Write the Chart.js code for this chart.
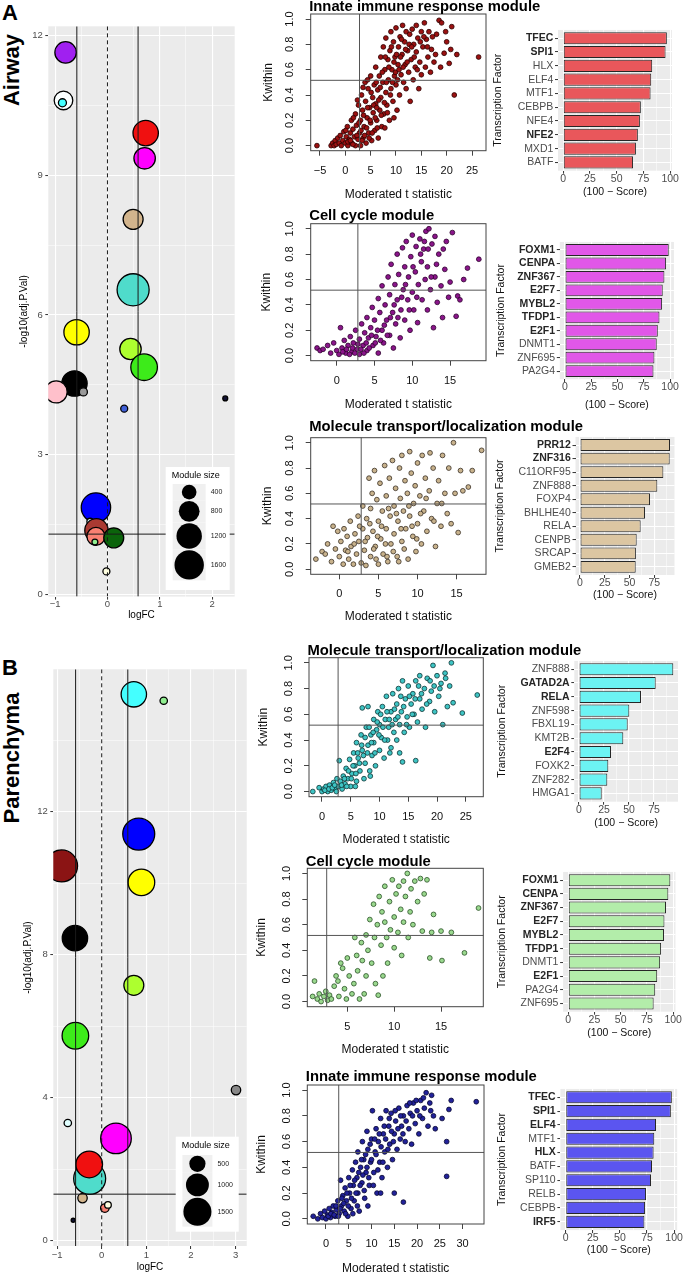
<!DOCTYPE html>
<html>
<head>
<meta charset="utf-8">
<title>Airway / Parenchyma module plots</title>
<script src="https://cdn.jsdelivr.net/npm/chart.js@4.4.1/dist/chart.umd.min.js"></script>
<style>
  html, body { margin: 0; padding: 0; background: #fff; }
  body { position: relative; width: 685px; height: 1278px; overflow: hidden; font-family: "Liberation Sans", Arial, sans-serif; }
  .tag { position: absolute; font-weight: bold; font-size: 22px; line-height: 1; color: #000; }
  .side { position: absolute; width: 0; height: 0; }
  .side span { position: absolute; left: 0; top: 0; transform: translate(-50%, -50%) rotate(-90deg); white-space: nowrap; font-weight: bold; font-size: 22px; line-height: 1; color: #000; }
</style>
</head>
<body>
<div class="tag" style="left:2px;top:2px">A</div>
<div class="side" style="left:12px;top:70px"><span>Airway</span></div>
<div class="tag" style="left:2px;top:657px">B</div>
<div class="side" style="left:12px;top:758px"><span>Parenchyma</span></div>
<script>
// ---------- module bubble plots ----------
const airModules = ['purple', 'white', 'cyan', 'red', 'magenta', 'tan', 'turquoise', 'yellow', 'greenyellow', 'green', 'black', 'pink', 'grey60', 'royalblue', 'midnightblue', 'blue', 'lightcyan', 'brown', 'salmon', 'darkgreen', 'lightgreen', 'lightyellow'];
const airLogFC = [-0.80, -0.84, -0.86, 0.73, 0.71, 0.49, 0.49, -0.59, 0.44, 0.70, -0.63, -0.98, -0.46, 0.32, 2.25, -0.22, -0.33, -0.21, -0.22, 0.12, -0.24, -0.02];
const airNegLogP = [11.63, 10.60, 10.55, 9.90, 9.36, 8.05, 6.54, 5.63, 5.27, 4.88, 4.53, 4.35, 4.35, 3.99, 4.21, 1.87, 1.57, 1.38, 1.25, 1.22, 1.13, 0.50];
const airModSize = [850, 640, 120, 1190, 850, 740, 1900, 1190, 850, 1310, 1190, 900, 120, 90, 45, 1600, 80, 1010, 600, 740, 65, 90];

const parModules = ['cyan', 'lightgreen', 'blue', 'darkred', 'yellow', 'black', 'greenyellow', 'green', 'grey', 'lightcyan', 'magenta', 'turquoise', 'red', 'tan', 'salmon', 'lightyellow', 'midnightblue'];
const parLogFC = [0.72, 1.39, 0.83, -0.90, 0.89, -0.60, 0.72, -0.59, 3.01, -0.76, 0.32, -0.27, -0.28, -0.43, 0.07, 0.14, -0.64];
const parNegLogP = [15.28, 15.10, 11.37, 10.48, 10.02, 8.46, 7.14, 5.73, 4.21, 3.29, 2.86, 1.74, 2.13, 1.19, 0.91, 1.00, 0.57];
const parModSize = [1230, 105, 1950, 1950, 1350, 1230, 760, 1350, 170, 105, 1790, 1950, 1350, 170, 140, 85, 30];

const airFcMajor = [-1, 0, 1, 2];
const airFcMinor = [-0.5, 0.5, 1.5];
const airPMajor = [0, 3, 6, 9, 12];
const airPMinor = [1.5, 4.5, 7.5, 10.5];
const parFcMajor = [-1, 0, 1, 2, 3];
const parFcMinor = [-0.5, 0.5, 1.5, 2.5];
const parPMajor = [0, 4, 8, 12];
const parPMinor = [2, 6, 10, 14];
const airSizeBreaks = [400, 800, 1200, 1600];
const parSizeBreaks = [500, 1000, 1500];
const fcCut = [-0.585, 0.585];
const pCut = 1.3;

// ---------- Kwithin vs moderated t scatter ----------
const airImmunePts = [[-5.6,0.0],[-2.8,0.0],[-2.5,0.02],[-2.2,0.0],[-2,0.04],[-1.8,0.01],[-1.5,0.06],[-1.2,0.02],[-1,0.08],[-0.8,0.0],[-0.5,0.04],[-0.3,0.11],[0,0.02],[0.2,0.07],[0.4,0.15],[0.5,0.0],[0.8,0.05],[1,0.1],[1.2,0.2],[1.3,0.02],[1.5,0.13],[1.8,0.07],[2,0.25],[2,0.0],[2.2,0.16],[2.5,0.05],[2.6,0.32],[2.8,0.1],[3,0.2],[3,0.0],[3.2,0.4],[3.4,0.28],[3.5,0.06],[3.7,0.15],[3.9,0.5],[4,0.35],[4.1,0.02],[4.3,0.22],[4.5,0.45],[4.6,0.1],[4.8,0.3],[5,0.55],[5,0.18],[5.2,0.04],[5.4,0.38],[5.5,0.26],[5.7,0.48],[5.8,0.12],[6,0.62],[6,0.33],[6.2,0.2],[6.4,0.44],[6.5,0.06],[6.7,0.55],[6.8,0.28],[7,0.7],[7,0.38],[7.2,0.15],[7.4,0.5],[7.5,0.78],[7.6,0.25],[7.8,0.6],[8,0.42],[8,0.85],[8.2,0.32],[8.4,0.68],[8.5,0.52],[8.7,0.2],[8.8,0.75],[9,0.45],[9,0.9],[9.2,0.6],[9.4,0.35],[9.5,0.82],[9.7,0.55],[9.8,0.7],[10,0.48],[10,0.93],[10.2,0.28],[10.4,0.64],[10.5,0.78],[10.7,0.4],[10.8,0.86],[11,0.56],[11.2,0.72],[11.3,0.95],[11.5,0.5],[11.7,0.82],[11.8,0.64],[12,0.9],[12,0.45],[12.3,0.75],[12.5,0.58],[12.7,0.88],[12.8,0.35],[13,0.68],[13.2,0.92],[13.4,0.52],[13.5,0.8],[13.8,0.62],[14,0.95],[14,0.74],[14.3,0.85],[14.5,0.45],[14.7,0.66],[15,0.9],[15,0.56],[15.3,0.78],[15.6,0.97],[15.8,0.62],[16,0.84],[16.3,0.7],[16.5,0.9],[16.8,0.58],[17,0.76],[17.5,0.66],[18,0.88],[18.5,0.99],[18.8,0.62],[19,0.97],[19.5,0.73],[20,0.82],[20.5,0.65],[21,0.94],[21.5,0.40],[22,0.72],[26.3,0.70],
  [0.5,0.03],[1,0.04],[1.5,0.01],[2.3,0.08],[2.7,0.18],[3.1,0.12],[3.3,0.04],[3.6,0.24],[3.8,0.08],[4.2,0.14],[4.4,0.3],[4.7,0.06],[4.9,0.2],[5.1,0.42],[5.3,0.1],[5.6,0.32],[5.9,0.22],[6.1,0.5],[6.3,0.14],[6.6,0.36],[6.9,0.46],[7.1,0.24],[7.3,0.58],[7.7,0.34],[7.9,0.7],[8.1,0.5],[8.3,0.26],[8.6,0.62],[8.9,0.4],[9.1,0.78],[9.3,0.5],[9.6,0.66],[9.9,0.58],[10.1,0.72],[10.3,0.52],[10.6,0.6],[10.9,0.7],[11.1,0.84],[11.4,0.62],[11.9,0.76],[12.2,0.66],[12.6,0.8],[13.1,0.78],[13.6,0.7],[14.2,0.6],[14.8,0.82],[15.5,0.86],[16.2,0.78],[17.2,0.86],[17.8,0.72],[19.8,0.9],[20.8,0.76],[0.1,0.12],[1.6,0.22],[2.4,0.36],[3.5,0.46],[4.4,0.52],[6.2,0.3],[7.8,0.14],[9.6,0.22]];
const airCyclePts = [[-2.6,0.06],[-2.2,0.04],[-1.8,0.05],[-1.2,0.08],[-0.8,0.02],[-0.4,0.1],[0,0.04],[0.3,0.01],[0.5,0.22],[0.7,0.06],[1,0.12],[1.2,0.02],[1.5,0.08],[1.8,0.15],[2,0.03],[2.2,0.1],[2.5,0.2],[2.7,0.05],[3,0.13],[3,0.01],[3.3,0.25],[3.5,0.08],[3.7,0.18],[4,0.3],[4,0.04],[4.2,0.14],[4.5,0.22],[4.7,0.38],[4.8,0.08],[5,0.28],[5.2,0.15],[5.5,0.45],[5.5,0.02],[5.7,0.34],[6,0.2],[6,0.55],[6.2,0.1],[6.4,0.4],[6.6,0.28],[6.8,0.62],[7,0.16],[7,0.48],[7.2,0.72],[7.4,0.34],[7.5,0.06],[7.7,0.56],[7.8,0.25],[8,0.8],[8,0.44],[8.2,0.64],[8.4,0.14],[8.5,0.36],[8.7,0.85],[8.8,0.52],[9,0.7],[9,0.28],[9.2,0.9],[9.4,0.44],[9.5,0.62],[9.7,0.2],[9.8,0.78],[10,0.5],[10,0.95],[10.2,0.36],[10.4,0.66],[10.5,0.86],[10.7,0.26],[10.8,0.56],[11,0.92],[11.2,0.74],[11.3,0.44],[11.5,0.84],[11.7,0.6],[11.8,0.98],[12,0.36],[12,0.7],[12.2,1.0],[12.4,0.52],[12.6,0.88],[12.8,0.22],[13,0.62],[13,0.94],[13.3,0.42],[13.5,0.8],[13.8,0.55],[14,0.3],[14.3,0.68],[14.5,0.9],[14.8,0.46],[15,0.58],[15.3,0.97],[15.8,0.31],[16,0.47],[16.3,0.44],[16.8,0.6],[17.3,0.69],[18.8,0.76],
  [0.8,0.03],[1.3,0.05],[1.7,0.01],[2.1,0.06],[2.4,0.02],[2.8,0.09],[3.2,0.05],[3.6,0.02],[3.9,0.1],[4.3,0.06],[4.6,0.16],[5.1,0.1],[5.4,0.2],[5.8,0.12],[6.3,0.24],[6.7,0.16],[7.1,0.3],[7.6,0.4],[8.1,0.3],[8.6,0.46],[9.1,0.56],[9.6,0.36],[10.1,0.7],[10.6,0.46],[11.1,0.8],[11.6,0.9],[12.1,0.84],[12.5,0.62],[13.2,0.72],[14.1,0.84]];
const airTransPts = [[-3,0.08],[-2.2,0.14],[-1.8,0.12],[-1.5,0.2],[-1,0.06],[-0.8,0.34],[-0.5,0.16],[-0.2,0.3],[0,0.1],[0.2,0.22],[0.5,0.04],[0.6,0.32],[0.8,0.15],[1,0.26],[1.2,0.08],[1.4,0.38],[1.5,0.18],[1.8,0.04],[2,0.28],[2.2,0.12],[2.4,0.42],[2.5,0.22],[2.8,0.05],[3,0.5],[3,0.32],[3.2,0.15],[3.4,0.03],[3.5,0.4],[3.6,0.25],[3.8,0.72],[4,0.1],[4,0.48],[4.2,0.6],[4.3,0.3],[4.5,0.78],[4.6,0.18],[4.8,0.55],[5,0.04],[5,0.38],[5.2,0.68],[5.3,0.24],[5.5,0.46],[5.6,0.12],[5.8,0.82],[6,0.32],[6,0.58],[6.2,0.06],[6.4,0.72],[6.5,0.42],[6.6,0.2],[6.8,0.86],[7,0.5],[7,0.28],[7.2,0.64],[7.4,0.1],[7.5,0.38],[7.7,0.8],[7.8,0.56],[8,0.9],[8,0.22],[8.2,0.46],[8.4,0.7],[8.5,0.32],[8.7,0.6],[8.8,0.08],[9,0.93],[9,0.42],[9.2,0.76],[9.4,0.26],[9.5,0.52],[9.7,0.66],[9.8,0.14],[10,0.36],[10,0.84],[10.3,0.58],[10.5,0.2],[10.6,0.9],[10.8,0.46],[11,0.72],[11.2,0.3],[11.5,0.62],[11.6,0.92],[11.8,0.4],[12,0.8],[12.3,0.18],[12.5,0.52],[12.7,0.7],[13,0.34],[13.2,0.9],[13.5,0.6],[13.8,0.44],[14,0.8],[14.3,0.36],[14.6,1.0],[14.8,0.6],[15.2,0.29],[15.5,0.78],[15.8,0.62],[16.5,0.65],[17,0.78],[18.2,0.94],
  [1.1,0.14],[1.9,0.2],[2.6,0.34],[3.3,0.22],[3.9,0.36],[4.4,0.16],[4.9,0.26],[5.4,0.34],[5.9,0.2],[6.3,0.48],[6.9,0.14],[7.3,0.44],[7.9,0.32],[8.3,0.16],[8.9,0.5],[9.3,0.34],[9.9,0.24],[10.4,0.44],[11.1,0.56],[12.1,0.38],[13.1,0.52],[4.7,0.08],[6.1,0.1],[7.6,0.06]];
const parTransPts = [[-1.6,0.0],[-0.5,0.03],[0,0.0],[0.3,0.02],[0.7,0.04],[1,0.0],[1.3,0.05],[1.6,0.01],[2,0.07],[2.3,0.02],[2.6,0.1],[2.8,0.04],[3,0.24],[3.2,0.08],[3.5,0.02],[3.7,0.12],[4,0.06],[4.2,0.18],[4.5,0.1],[4.8,0.25],[5,0.04],[5.2,0.14],[5.5,0.3],[5.7,0.2],[6,0.08],[6,0.38],[6.3,0.26],[6.6,0.16],[6.8,0.44],[7,0.32],[7,0.65],[7.3,0.1],[7.5,0.22],[7.7,0.5],[8,0.36],[8,0.66],[8.3,0.16],[8.5,0.44],[8.7,0.28],[9,0.56],[9,0.38],[9.3,0.2],[9.5,0.48],[9.7,0.62],[10,0.32],[10,0.52],[10.3,0.42],[10.5,0.66],[10.8,0.26],[11,0.56],[11.2,0.74],[11.4,0.4],[11.6,0.5],[12,0.62],[12,0.34],[12.3,0.76],[12.5,0.46],[12.8,0.56],[13,0.68],[13,0.4],[13.3,0.8],[13.5,0.52],[13.8,0.62],[14,0.23],[14,0.86],[14.3,0.46],[14.5,0.72],[14.8,0.58],[15,0.82],[15.2,0.5],[15.5,0.68],[15.8,0.76],[16,0.6],[16.3,0.24],[16.3,0.86],[16.6,0.54],[17,0.72],[17,0.9],[17.4,0.64],[17.8,0.8],[18,0.5],[18.3,0.88],[18.7,0.7],[19,0.78],[19.3,0.98],[19.6,0.62],[20,0.9],[20.3,0.74],[20.7,0.84],[21,0.52],[21.4,0.92],[21.8,0.66],[22.2,0.82],[22.5,1.0],[22.8,0.69],[24.4,0.61],[27,0.75],
  [0.5,0.01],[1.2,0.02],[1.8,0.03],[2.2,0.05],[2.5,0.0],[3.4,0.05],[3.9,0.1],[4.3,0.04],[4.6,0.16],[5.1,0.1],[5.4,0.2],[5.9,0.14],[6.2,0.3],[6.5,0.22],[6.9,0.36],[7.2,0.28],[7.5,0.42],[7.9,0.3],[8.2,0.5],[8.6,0.38],[8.9,0.46],[9.2,0.3],[9.6,0.54],[9.9,0.44],[10.2,0.6],[10.6,0.5],[10.9,0.4],[11.3,0.62],[11.7,0.56],[12.2,0.52],[12.6,0.64],[13.2,0.58],[13.7,0.74],[14.2,0.66],[14.7,0.52],[15.2,0.74],[15.7,0.6],[16.2,0.72],[16.8,0.82],[17.3,0.76],[18.2,0.68],[18.8,0.86],[19.5,0.82],[20.5,0.8],[21.5,0.88],[5.8,0.04],[8.4,0.12],[11.8,0.3],[13.5,0.3]];
const parCyclePts = [[1.3,0.04],[1.5,0.16],[1.8,0.02],[2,0.06],[2.2,0.0],[2.5,0.04],[2.7,0.08],[2.9,0.01],[3.1,0.05],[3.3,0.02],[3.6,0.12],[3.8,0.2],[4,0.16],[4.1,0.04],[4.3,0.3],[4.5,0.26],[4.7,0.1],[4.9,0.02],[5,0.34],[5.2,0.2],[5.5,0.06],[5.7,0.14],[5.8,0.5],[6,0.36],[6.1,0.24],[6.3,0.02],[6.5,0.46],[6.6,0.32],[6.8,0.06],[7,0.52],[7,0.2],[7.2,0.4],[7.4,0.64],[7.6,0.3],[7.8,0.76],[7.9,0.5],[8,0.14],[8.2,0.6],[8.3,0.05],[8.4,0.82],[8.6,0.44],[8.7,0.7],[8.8,0.2],[9,0.62],[9,0.9],[9.2,0.5],[9.3,0.3],[9.5,0.78],[9.6,0.56],[9.8,0.95],[10,0.66],[10,0.42],[10.2,0.84],[10.4,0.54],[10.5,0.9],[10.7,0.72],[10.8,0.36],[11,0.94],[11,0.62],[11.2,0.82],[11.4,1.0],[11.5,0.5],[11.7,0.7],[11.8,0.88],[12,0.6],[12.2,0.94],[12.5,0.78],[12.8,0.96],[13,0.55],[13.2,0.84],[13.5,0.95],[13.8,0.34],[14,0.54],[14.2,0.68],[15,0.55],[15.1,0.32],[16.1,0.54],[17.5,0.38],[19,0.73]];
const parImmunePts = [[-2.8,0.02],[-1.8,0.0],[-1.2,0.04],[-0.8,0.01],[-0.3,0.06],[0,0.0],[0.3,0.03],[0.7,0.08],[1,0.01],[1.3,0.05],[1.6,0.1],[2,0.02],[2.3,0.07],[2.6,0.14],[2.9,0.04],[3.2,0.3],[3.4,0.1],[3.7,0.18],[4,0.06],[4.2,0.24],[4.5,0.14],[4.8,0.02],[5,0.32],[5.2,0.2],[5.5,0.08],[5.8,0.38],[6,0.26],[6.2,0.14],[6.5,0.44],[6.8,0.32],[7,0.52],[7,0.2],[7.3,0.06],[7.6,0.4],[7.9,0.28],[8,0.6],[8.3,0.46],[8.5,0.16],[8.8,0.36],[9,0.68],[9.2,0.54],[9.5,0.26],[9.8,0.44],[10,0.62],[10.2,0.84],[10.5,0.36],[10.8,0.52],[11,0.7],[11.2,0.2],[11.5,0.6],[11.8,0.44],[12,0.78],[12.3,0.32],[12.6,0.66],[12.9,0.52],[13.2,0.84],[13.5,0.4],[13.8,0.72],[14,0.58],[14.3,0.82],[14.6,0.46],[15,0.2],[15,0.66],[15.3,0.76],[15.6,0.54],[16,0.86],[16.3,0.62],[16.6,0.72],[17,0.13],[17,0.8],[17.4,0.6],[17.8,0.88],[18.2,0.7],[18.5,0.82],[18.8,0.58],[19.2,0.9],[19.6,0.74],[20,0.84],[20.4,0.66],[20.8,0.92],[21.2,0.78],[21.6,0.86],[22,0.98],[22.4,0.72],[22.8,0.9],[23.2,0.96],[23.6,0.8],[24,0.7],[25.5,0.78],[26.5,0.33],[26.5,0.6],[27,0.85],[27.5,0.92],[33,0.91],
  [0.5,0.02],[1.1,0.04],[1.8,0.03],[2.2,0.1],[2.7,0.02],[3.1,0.08],[3.5,0.16],[3.9,0.12],[4.3,0.04],[4.6,0.2],[4.9,0.1],[5.3,0.26],[5.6,0.16],[5.9,0.04],[6.3,0.3],[6.6,0.2],[6.9,0.1],[7.2,0.36],[7.5,0.26],[7.8,0.46],[8.1,0.34],[8.4,0.22],[8.7,0.5],[9,0.4],[9.4,0.32],[9.7,0.58],[10,0.46],[10.4,0.26],[10.7,0.62],[11,0.5],[11.4,0.38],[11.7,0.66],[12.1,0.56],[12.5,0.44],[12.8,0.72],[13.1,0.62],[13.6,0.54],[13.9,0.78],[14.4,0.68],[14.8,0.6],[15.2,0.84],[15.8,0.7],[16.4,0.8],[16.9,0.66],[17.6,0.76],[18.4,0.9],[19,0.8],[19.8,0.92],[20.6,0.8],[21.4,0.94],[23,0.84],[9.2,0.1],[12,0.2]];

const kTicks = [0, 0.2, 0.4, 0.6, 0.8, 1.0];
const kTickLabels = ['0.0', '0.2', '0.4', '0.6', '0.8', '1.0'];
const tCut = 2.8;
const kCut = 0.516;

// ---------- top transcription factors ----------
const airImmuneTF = ['TFEC', 'SPI1', 'HLX', 'ELF4', 'MTF1', 'CEBPB', 'NFE4', 'NFE2', 'MXD1', 'BATF'];
const airImmuneScore = [96.9, 95.7, 83.2, 82.3, 81.7, 72.6, 71.7, 69.8, 68.0, 65.3];
const airImmuneBold = ['TFEC', 'SPI1', 'NFE2'];
const airCycleTF = ['FOXM1', 'CENPA', 'ZNF367', 'E2F7', 'MYBL2', 'TFDP1', 'E2F1', 'DNMT1', 'ZNF695', 'PA2G4'];
const airCycleScore = [98.7, 96.2, 94.6, 93.0, 92.4, 89.9, 88.3, 87.3, 85.1, 84.2];
const airCycleBold = ['FOXM1', 'CENPA', 'ZNF367', 'E2F7', 'MYBL2', 'TFDP1', 'E2F1'];
const airTransTF = ['PRR12', 'ZNF316', 'C11ORF95', 'ZNF888', 'FOXP4', 'BHLHE40', 'RELA', 'CENPB', 'SRCAP', 'GMEB2'];
const airTransScore = [90.8, 90.5, 84.1, 78.0, 70.6, 65.6, 61.2, 57.2, 56.4, 56.2];
const airTransBold = ['PRR12', 'ZNF316'];
const parTransTF = ['ZNF888', 'GATAD2A', 'RELA', 'ZNF598', 'FBXL19', 'KMT2B', 'E2F4', 'FOXK2', 'ZNF282', 'HMGA1'];
const parTransScore = [94.3, 76.7, 62.0, 50.3, 48.7, 44.3, 32.0, 29.3, 28.3, 22.7];
const parTransBold = ['GATAD2A', 'RELA', 'E2F4'];
const parCycleTF = ['FOXM1', 'CENPA', 'ZNF367', 'E2F7', 'MYBL2', 'TFDP1', 'DNMT1', 'E2F1', 'PA2G4', 'ZNF695'];
const parCycleScore = [97.3, 95.4, 93.2, 91.7, 91.3, 88.5, 87.6, 84.8, 82.9, 81.4];
const parCycleBold = ['FOXM1', 'CENPA', 'ZNF367', 'E2F7', 'MYBL2', 'TFDP1', 'E2F1'];
const parImmuneTF = ['TFEC', 'SPI1', 'ELF4', 'MTF1', 'HLX', 'BATF', 'SP110', 'RELB', 'CEBPB', 'IRF5'];
const parImmuneScore = [97.9, 97.0, 83.3, 81.7, 81.1, 79.6, 78.7, 74.1, 73.2, 72.6];
const parImmuneBold = ['TFEC', 'SPI1', 'ELF4', 'HLX', 'IRF5'];

const scoreMajor = [0, 25, 50, 75, 100];
const scoreMinor = [12.5, 37.5, 62.5, 87.5];

// ---------- styling ----------
const FONT = '"Liberation Sans", Arial, Helvetica, sans-serif';
Chart.defaults.font.family = FONT;
Chart.defaults.color = '#4d4d4d';
Chart.defaults.animation = false;
Chart.defaults.responsive = false;
Chart.defaults.events = [];
Chart.defaults.plugins.legend.display = false;
Chart.defaults.plugins.tooltip.enabled = false;

const moduleFill = {
  purple: '#A020F0', white: '#FBFFFF', cyan: '#44FFFF', red: '#F01010', magenta: '#FF00FF',
  tan: '#D2B48C', turquoise: '#4FDCCB', yellow: '#FFFF00', greenyellow: '#ADFF2F', green: '#3DEB1A',
  black: '#000000', pink: '#FFC0CB', grey60: '#999999', royalblue: '#3F5FD6', midnightblue: '#111133',
  blue: '#0000FF', lightcyan: '#E0FFFF', brown: '#AA3A32', salmon: '#FA8072', darkgreen: '#0B640B',
  lightgreen: '#90EE90', lightyellow: '#FFFFE0', darkred: '#8B1414', grey: '#888888'
};

const minus = v => (v < 0 ? '\u2212' + Math.abs(v) : String(v));

// canvas around a plot rect given in page pixels; returns paddings that pin the chart area there
function place(rect, outer) {
  const [L, T, R, B] = rect;
  const cl = Math.floor(outer[0]), ct = Math.floor(outer[1]);
  const cr = Math.ceil(outer[2]), cb = Math.ceil(outer[3]);
  const cv = document.createElement('canvas');
  cv.width = cr - cl; cv.height = cb - ct;
  Object.assign(cv.style, { position: 'absolute', left: cl + 'px', top: ct + 'px', width: (cr - cl) + 'px', height: (cb - ct) + 'px' });
  document.body.appendChild(cv);
  return { cv, cl, ct, cr, cb, pad: { l: L - cl, t: T - ct, r: cr - R, b: cb - B } };
}

function ggGrid(major) {
  const isMajor = c => c.tick && major.includes(c.tick.value);
  return {
    offset: false,
    color: '#ffffff',
    lineWidth: c => (isMajor(c) ? 1.1 : 0.5),
    drawTicks: true, tickLength: 3, tickWidth: 1,
    tickColor: c => (isMajor(c) ? '#333333' : 'rgba(0,0,0,0)')
  };
}

const ggPanel = {
  id: 'ggPanel',
  beforeDraw(chart) {
    const { ctx, chartArea: a } = chart;
    ctx.save();
    ctx.fillStyle = '#EBEBEB';
    ctx.fillRect(a.left, a.top, a.right - a.left, a.bottom - a.top);
    ctx.restore();
  }
};

const refLines = {
  id: 'refLines',
  afterDatasetsDraw(chart, args, o) {
    const { ctx, chartArea: a, scales: { x, y } } = chart;
    ctx.save();
    ctx.beginPath(); ctx.rect(a.left, a.top, a.right - a.left, a.bottom - a.top); ctx.clip();
    ctx.strokeStyle = o.color; ctx.lineWidth = o.width;
    o.v.forEach(l => {
      const px = x.getPixelForValue(l.at);
      ctx.setLineDash(l.dash || []);
      ctx.beginPath(); ctx.moveTo(px, a.top); ctx.lineTo(px, a.bottom); ctx.stroke();
    });
    o.h.forEach(l => {
      const py = y.getPixelForValue(l.at);
      ctx.setLineDash(l.dash || []);
      ctx.beginPath(); ctx.moveTo(a.left, py); ctx.lineTo(a.right, py); ctx.stroke();
    });
    ctx.restore();
  }
};

const sizeLegend = {
  id: 'sizeLegend',
  afterDraw(chart, args, o) {
    const { ctx, chartArea: a } = chart;
    const x0 = a.right - o.right - o.width, y0 = a.bottom - o.bottom - o.height;
    ctx.save();
    ctx.fillStyle = '#ffffff';
    ctx.fillRect(x0, y0, o.width, o.height);
    ctx.fillStyle = '#000';
    ctx.textBaseline = 'middle';
    ctx.font = '9px ' + FONT;
    ctx.fillText('Module size', x0 + 6, y0 + 9);
    let ky = y0 + o.keyTop;
    o.breaks.forEach(b => {
      const r = o.rScale * Math.sqrt(b);
      const kh = Math.max(15, 2 * r + 1.5);
      ctx.fillStyle = '#F0F0F0';
      ctx.fillRect(x0 + o.keyLeft, ky, o.keyWidth, kh);
      ctx.fillStyle = '#000';
      ctx.beginPath(); ctx.arc(x0 + o.keyLeft + o.keyWidth / 2, ky + kh / 2, r, 0, Math.PI * 2); ctx.fill();
      ctx.font = '7px ' + FONT;
      ctx.fillStyle = '#222';
      ctx.fillText(String(b), x0 + o.keyLeft + o.keyWidth + 5, ky + kh / 2);
      ky += kh;
    });
    ctx.restore();
  }
};

const baseBox = {
  id: 'baseBox',
  afterDatasetsDraw(chart, args, o) {
    const { ctx, chartArea: a, scales: { x, y } } = chart;
    ctx.save();
    ctx.strokeStyle = '#555'; ctx.lineWidth = 1;
    const px = x.getPixelForValue(o.tCut), py = y.getPixelForValue(o.kCut);
    ctx.beginPath(); ctx.moveTo(px, a.top); ctx.lineTo(px, a.bottom); ctx.stroke();
    ctx.beginPath(); ctx.moveTo(a.left, py); ctx.lineTo(a.right, py); ctx.stroke();
    ctx.strokeStyle = '#444';
    ctx.strokeRect(a.left, a.top, a.right - a.left, a.bottom - a.top);
    // y tick labels read bottom-to-top, like base R
    ctx.fillStyle = '#111';
    ctx.font = '11px ' + FONT;
    ctx.textAlign = 'center'; ctx.textBaseline = 'middle';
    o.kTicks.forEach((v, i) => {
      ctx.save();
      ctx.translate(a.left - o.yLabelGap, y.getPixelForValue(v));
      ctx.rotate(-Math.PI / 2);
      ctx.fillText(o.kLabels[i], 0, 0);
      ctx.restore();
    });
    ctx.fillStyle = '#000';
    ctx.font = 'bold 14.8px ' + FONT;
    ctx.textAlign = 'left';
    ctx.fillText(o.title, a.left - 1.5, a.top - o.titleGap);
    ctx.restore();
  }
};

function bubblePanel(o) {
  const [L, T, R, B] = o.rect;
  const p = place(o.rect, [o.yTitleX - 5, T - 6, R + 6, o.xTitleY + 5]);
  const xt = o.xMajor.concat(o.xMinor).sort((a, b) => a - b);
  const yt = o.yMajor.concat(o.yMinor).sort((a, b) => a - b);
  new Chart(p.cv, {
    type: 'bubble',
    data: {
      datasets: [{
        data: o.fc.map((v, i) => ({ x: v, y: o.p[i], r: o.rScale * Math.sqrt(o.size[i]) })),
        backgroundColor: o.mods.map(m => moduleFill[m]),
        borderColor: '#000', borderWidth: 1.3, clip: 0
      }]
    },
    options: {
      layout: { padding: { left: 0, top: p.pad.t, right: p.pad.r, bottom: 0 } },
      scales: {
        x: {
          type: 'linear', min: o.xlim[0], max: o.xlim[1],
          afterFit: s => { s.height = p.pad.b; },
          afterBuildTicks: s => { s.ticks = xt.map(v => ({ value: v })); },
          grid: ggGrid(o.xMajor), border: { display: false },
          ticks: { autoSkip: false, maxRotation: 0, padding: o.xTickPad, color: '#4d4d4d', font: { size: 9.5, lineHeight: 1 },
                   callback: v => (o.xMajor.includes(v) ? minus(v) : '') },
          title: { display: true, text: 'logFC', color: '#000', font: { size: 10, lineHeight: 1 },
                   padding: { top: 0, bottom: p.cb - (o.xTitleY + 5) } }
        },
        y: {
          type: 'linear', min: o.ylim[0], max: o.ylim[1],
          afterFit: s => { s.width = p.pad.l; },
          afterBuildTicks: s => { s.ticks = yt.map(v => ({ value: v })); },
          grid: ggGrid(o.yMajor), border: { display: false },
          ticks: { autoSkip: false, padding: 2.5, color: '#4d4d4d', font: { size: 9.5, lineHeight: 1 },
                   callback: v => (o.yMajor.includes(v) ? String(v) : '') },
          title: { display: true, text: '-log10(adj.P.Val)', color: '#000', font: { size: 10, lineHeight: 1 },
                   padding: { top: (o.yTitleX - 5) - p.cl, bottom: 0 } }
        }
      },
      plugins: {
        refLines: { color: '#1a1a1a', width: 1, v: [{ at: fcCut[0] }, { at: fcCut[1] }, { at: 0, dash: [4, 3] }], h: [{ at: pCut }] },
        sizeLegend: o.legend
      }
    },
    plugins: [ggPanel, refLines, sizeLegend]
  });
}

function scatterPanel(o) {
  const [L, T, R, B] = o.rect;
  const p = place(o.rect, [o.yTitleX - 6, T - 17, R + 115, o.xTitleY + 6]);
  new Chart(p.cv, {
    type: 'scatter',
    data: {
      datasets: [{
        data: o.pts.map(([t, k]) => ({ x: t, y: k })),
        pointRadius: 2.4, pointBorderWidth: 0.8, backgroundColor: o.fill, borderColor: o.edge
      }]
    },
    options: {
      layout: { padding: { left: 0, top: p.pad.t, right: p.pad.r, bottom: 0 } },
      scales: {
        x: {
          type: 'linear', min: o.xlim[0], max: o.xlim[1],
          afterFit: s => { s.height = p.pad.b; },
          afterBuildTicks: s => { s.ticks = o.tTicks.map(v => ({ value: v })); },
          grid: { drawOnChartArea: false, drawTicks: true, tickLength: 5, tickColor: '#444', tickWidth: 1 },
          border: { display: false },
          ticks: { autoSkip: false, maxRotation: 0, padding: 9.5, color: '#111', font: { size: 11, lineHeight: 1 }, callback: v => minus(v) },
          title: { display: true, text: 'Moderated t statistic', color: '#111', font: { size: 12, lineHeight: 1 },
                   padding: { top: 0, bottom: p.cb - (o.xTitleY + 6) } }
        },
        y: {
          type: 'linear', min: -0.04, max: 1.04,
          afterFit: s => { s.width = p.pad.l; },
          afterBuildTicks: s => { s.ticks = kTicks.map(v => ({ value: v })); },
          grid: { drawOnChartArea: false, drawTicks: true, tickLength: 5, tickColor: '#444', tickWidth: 1 },
          border: { display: false },
          ticks: { display: false },
          title: { display: true, text: 'Kwithin', color: '#111', font: { size: 12, lineHeight: 1 },
                   padding: { top: (o.yTitleX - 6) - p.cl, bottom: 0 } }
        }
      },
      plugins: {
        baseBox: { title: o.title, titleGap: T - o.titleY, tCut, kCut, kTicks, kLabels: kTickLabels, yLabelGap: 20.5 }
      }
    },
    plugins: [baseBox]
  });
}

function barPanel(o) {
  const [L, T, R, B] = o.rect;
  const top = Math.max(...o.score);
  const xmin = -0.05 * top, xmax = 1.05 * top;
  const p = place(o.rect, [o.yTitleX - 5.25, T - 4, R + 4, o.xTitleY + 5.25]);
  const xt = scoreMajor.concat(scoreMinor).filter(v => v >= xmin && v <= xmax).sort((a, b) => a - b);
  const rows = o.tf.map((t, i) => i + 1);
  const isBold = i => o.bold.includes(o.tf[i]);
  new Chart(p.cv, {
    type: 'bar',
    data: {
      datasets: [{
        data: o.tf.map((t, i) => ({ x: o.score[i], y: i + 1 })),
        backgroundColor: o.fill, borderColor: '#262626', borderWidth: 1, borderSkipped: false,
        barPercentage: 0.88, categoryPercentage: 1
      }]
    },
    options: {
      indexAxis: 'y',
      layout: { padding: { left: 0, top: p.pad.t, right: p.pad.r, bottom: 0 } },
      scales: {
        x: {
          type: 'linear', min: xmin, max: xmax, offset: false,
          afterFit: s => { s.height = p.pad.b; },
          afterBuildTicks: s => { s.ticks = xt.map(v => ({ value: v })); },
          grid: ggGrid(scoreMajor), border: { display: false },
          ticks: { autoSkip: false, maxRotation: 0, padding: 0, color: '#4d4d4d', font: { size: 10.5, lineHeight: 1 },
                   callback: v => (scoreMajor.includes(v) ? String(v) : '') },
          title: { display: true, text: '(100 \u2212 Score)', color: '#111', font: { size: 10.5, lineHeight: 1 },
                   padding: { top: 0, bottom: p.cb - (o.xTitleY + 5.25) } }
        },
        y: {
          type: 'linear', reverse: true, offset: false, min: 0.4, max: o.tf.length + 0.6,
          afterFit: s => { s.width = p.pad.l; },
          afterBuildTicks: s => { s.ticks = rows.map(v => ({ value: v })); },
          grid: ggGrid(rows), border: { display: false },
          ticks: {
            autoSkip: false, padding: 1.7,
            callback: v => o.tf[v - 1],
            font: c => ({ size: 10.5, lineHeight: 1, weight: isBold(c.index) ? 'bold' : 'normal' }),
            color: c => (isBold(c.index) ? '#262626' : '#4d4d4d')
          },
          title: { display: true, text: 'Transcription Factor', color: '#111', font: { size: 10.5, lineHeight: 1 },
                   padding: { top: (o.yTitleX - 5.25) - p.cl, bottom: 0 } }
        }
      }
    },
    plugins: [ggPanel]
  });
}

// ---------- panel A: airway ----------
bubblePanel({
  rect: [48.3, 15, 246, 596.6], xlim: [-1.13, 2.43], ylim: [-0.04, 12.19],
  xMajor: airFcMajor, xMinor: airFcMinor, yMajor: airPMajor, yMinor: airPMinor,
  fc: airLogFC, p: airNegLogP, size: airModSize, mods: airModules, rScale: 0.3675,
  yTitleX: 24, xTitleY: 615, xTickPad: 0,
  legend: { right: 5, bottom: 6.6, width: 64, height: 123, keyTop: 17, keyLeft: 7, keyWidth: 33, breaks: airSizeBreaks, rScale: 0.3675 }
});
scatterPanel({ rect: [310.7, 14, 486, 150.7], xlim: [-6.83, 27.76], tTicks: [-5, 0, 5, 10, 15, 20, 25], pts: airImmunePts,
  title: 'Innate immune response module', titleY: 7, yTitleX: 268.3, xTitleY: 195, fill: '#9B1111', edge: '#2a0000' });
scatterPanel({ rect: [310.7, 223.7, 486, 360.7], xlim: [-3.44, 19.75], tTicks: [0, 5, 10, 15], pts: airCyclePts,
  title: 'Cell cycle module', titleY: 215.7, yTitleX: 266.7, xTitleY: 405, fill: '#8A158A', edge: '#2d002d' });
scatterPanel({ rect: [310.7, 437.7, 486, 574.3], xlim: [-3.66, 18.76], tTicks: [0, 5, 10, 15], pts: airTransPts,
  title: 'Molecule transport/localization module', titleY: 427, yTitleX: 268, xTitleY: 617, fill: '#C8B28C', edge: '#3a3024' });
barPanel({ rect: [558, 27.6, 674.6, 170.7], tf: airImmuneTF, score: airImmuneScore, bold: airImmuneBold,
  yTitleX: 498.3, xTitleY: 192.3, fill: '#E9575B' });
barPanel({ rect: [559.8, 239.1, 674.5, 379.2], tf: airCycleTF, score: airCycleScore, bold: airCycleBold,
  yTitleX: 500.7, xTitleY: 405, fill: '#E157E8' });
barPanel({ rect: [575.5, 434, 674.5, 575], tf: airTransTF, score: airTransScore, bold: airTransBold,
  yTitleX: 500, xTitleY: 595, fill: '#DCC6A2' });

// ---------- panel B: parenchyma ----------
bubblePanel({
  rect: [53.3, 658.3, 257.3, 1246], xlim: [-1.085, 3.25], ylim: [-0.15, 15.98],
  xMajor: parFcMajor, xMinor: parFcMinor, yMajor: parPMajor, yMinor: parPMinor,
  fc: parLogFC, p: parNegLogP, size: parModSize, mods: parModules, rScale: 0.362,
  yTitleX: 28, xTitleY: 1267.7, xTickPad: 1.2,
  legend: { right: 8, bottom: 14.3, width: 63, height: 95, keyTop: 18.3, keyLeft: 6.7, keyWidth: 30, breaks: parSizeBreaks, rScale: 0.362 }
});
scatterPanel({ rect: [309, 657.7, 483.3, 796.7], xlim: [-2.26, 28.05], tTicks: [0, 5, 10, 15, 20, 25], pts: parTransPts,
  title: 'Molecule transport/localization module', titleY: 650.7, yTitleX: 263.3, xTitleY: 840, fill: '#3EC4C4', edge: '#0b3535' });
scatterPanel({ rect: [307.3, 868.3, 483.3, 1006.7], xlim: [0.73, 19.51], tTicks: [5, 10, 15], pts: parCyclePts,
  title: 'Cell cycle module', titleY: 861.7, yTitleX: 262, xTitleY: 1050, fill: '#9AD88E', edge: '#2a5226' });
scatterPanel({ rect: [307.3, 1085, 484, 1224], xlim: [-4.1, 34.7], tTicks: [0, 5, 10, 15, 20, 25, 30], pts: parImmunePts,
  title: 'Innate immune response module', titleY: 1076.7, yTitleX: 261.7, xTitleY: 1268.3, fill: '#22229A', edge: '#05052e' });
barPanel({ rect: [574.3, 658.9, 678, 801.7], tf: parTransTF, score: parTransScore, bold: parTransBold,
  yTitleX: 502.3, xTitleY: 823.3, fill: '#6CF3F3' });
barPanel({ rect: [563.1, 869.3, 678, 1011.7], tf: parCycleTF, score: parCycleScore, bold: parCycleBold,
  yTitleX: 501.7, xTitleY: 1032.7, fill: '#B3EDAA' });
barPanel({ rect: [560.4, 1086.6, 678.1, 1230.1], tf: parImmuneTF, score: parImmuneScore, bold: parImmuneBold,
  yTitleX: 501.7, xTitleY: 1250, fill: '#5B55F0' });
</script>
</body>
</html>
